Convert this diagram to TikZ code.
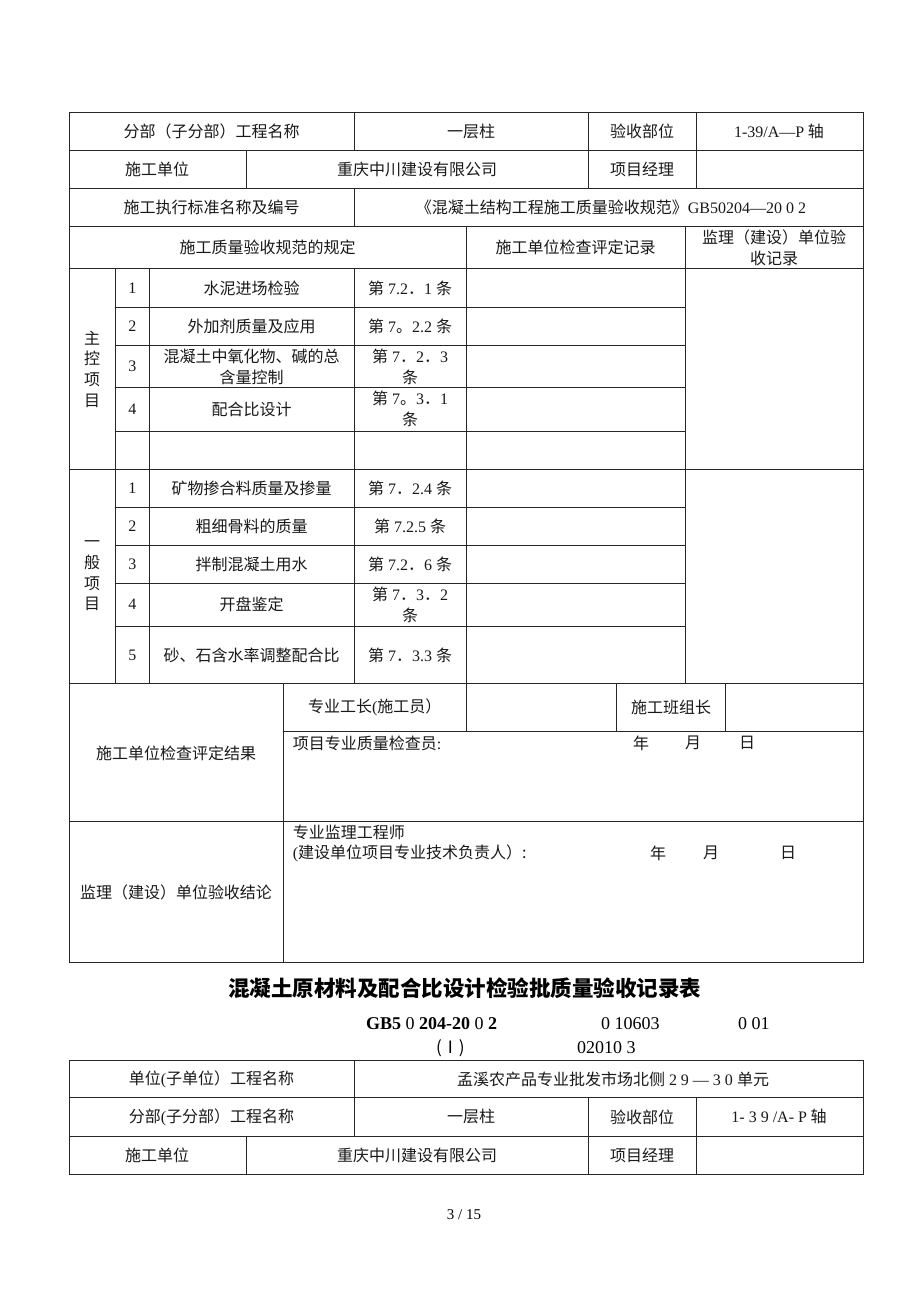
\documentclass[tikz,border=0pt]{standalone}
\usepackage{fontspec}
\setmainfont{Noto Sans CJK SC}
\newfontfamily\lat{Liberation Serif}
\newcommand\lt[1]{{\lat #1}}
\begin{document}
\begin{tikzpicture}[x=1pt,y=-1pt,
  grid/.style={draw=black!85,line width=1pt},
  txt/.style={font=\fontsize{16}{21}\selectfont,inner sep=0pt,align=center,text=black!90},
  lft/.style={txt,anchor=west,align=left},
  vlab/.style={font=\fontsize{16}{20.7}\selectfont,inner sep=0pt,align=center,text=black!90},
  ttl/.style={font=\fontsize{21.5}{24}\selectfont\bfseries,inner sep=0pt}]
\useasboundingbox[fill=white] (0,0) rectangle (920,1302);
% ---------- table 1 grid ----------
\draw[grid] (69,112) rectangle (863,962.3);
\foreach \yy in {150,188,226,268.7,469,683.7,821.7}{\draw[grid] (69,\yy) -- (863,\yy);}
\draw[grid] (354,112) -- (354,150);
\draw[grid] (354,188) -- (354,226);
\draw[grid] (246,150) -- (246,188);
\draw[grid] (588,112) -- (588,188);
\draw[grid] (696,112) -- (696,188);
\draw[grid] (466,226) -- (466,683.7);
\draw[grid] (685,226) -- (685,683.7);
\foreach \xx in {115.7,149,354}{\draw[grid] (\xx,268.7) -- (\xx,683.7);}
\foreach \yy in {307,345.3,387.7,431,507.3,545.3,583.3,626}{\draw[grid] (115.7,\yy) -- (685,\yy);}
\draw[grid] (283,683.7) -- (283,962.3);
\draw[grid] (283,731) -- (863,731);
\draw[grid] (466,683.7) -- (466,731);
\draw[grid] (616.7,683.7) -- (616.7,731);
\draw[grid] (725.7,683.7) -- (725.7,731);
% ---------- table 1 text ----------
\node[txt] (a1) at (211.5,131) {分部（子分部）工程名称};
\node[txt] (a2) at (471,131) {一层柱};
\node[txt] (a3) at (642,131) {验收部位};
\node[txt] (a4) at (779,131) {\lt{1-39/A—P} 轴};
\node[txt] (b1) at (157,169) {施工单位};
\node[txt] (b2) at (417,169) {重庆中川建设有限公司};
\node[txt] (b3) at (642,169) {项目经理};
\node[txt] (c1) at (211.5,207) {施工执行标准名称及编号};
\node[txt] (c2) at (611,207) {《混凝土结构工程施工质量验收规范》\lt{GB50204—20 0 2}};
\node[txt] (d1) at (267.5,247.5) {施工质量验收规范的规定};
\node[txt] (d2) at (575.5,247.5) {施工单位检查评定记录};
\node[txt] (d3) at (774,247.5) {监理（建设）单位验\\收记录};
\node[vlab] (zk) at (92,369) {主\\控\\项\\目};
\node[vlab] (yb) at (92,576) {一\\般\\项\\目};
% main items
\node[txt] (m1n) at (132.4,287.9) {\lt{1}};
\node[txt] (m1t) at (251.5,287.9) {水泥进场检验};
\node[txt] (m1c) at (410,287.9) {第\lt{ 7.2}．\lt{1 }条};
\node[txt] (m2n) at (132.4,326.2) {\lt{2}};
\node[txt] (m2t) at (251.5,326.2) {外加剂质量及应用};
\node[txt] (m2c) at (410,326.2) {第\lt{ 7}。\lt{2.2 }条};
\node[txt] (m3n) at (132.4,366.5) {\lt{3}};
\node[txt] (m3t) at (251.5,366.5) {混凝土中氧化物、碱的总\\含量控制};
\node[txt] (m3c) at (410,366.5) {第\lt{ 7}．\lt{2}．\lt{3}\\条};
\node[txt] (m4n) at (132.4,409.3) {\lt{4}};
\node[txt] (m4t) at (251.5,409.3) {配合比设计};
\node[txt] (m4c) at (410,409.3) {第\lt{ 7}。\lt{3}．\lt{1}\\条};
% general items
\node[txt] (g1n) at (132.4,488.2) {\lt{1}};
\node[txt] (g1t) at (251.5,488.2) {矿物掺合料质量及掺量};
\node[txt] (g1c) at (410,488.2) {第\lt{ 7}．\lt{2.4 }条};
\node[txt] (g2n) at (132.4,526.3) {\lt{2}};
\node[txt] (g2t) at (251.5,526.3) {粗细骨料的质量};
\node[txt] (g2c) at (410,526.3) {第\lt{ 7.2.5 }条};
\node[txt] (g3n) at (132.4,564.3) {\lt{3}};
\node[txt] (g3t) at (251.5,564.3) {拌制混凝土用水};
\node[txt] (g3c) at (410,564.3) {第\lt{ 7.2}．\lt{6 }条};
\node[txt] (g4n) at (132.4,604.7) {\lt{4}};
\node[txt] (g4t) at (251.5,604.7) {开盘鉴定};
\node[txt] (g4c) at (410,604.7) {第\lt{ 7}．\lt{3}．\lt{2}\\条};
\node[txt] (g5n) at (132.4,655) {\lt{5}};
\node[txt] (g5t) at (251.5,655) {砂、石含水率调整配合比};
\node[txt] (g5c) at (410,655) {第\lt{ 7}．\lt{3.3 }条};
% bottom
\node[txt] (e1) at (374.7,707.3) {专业工长\lt{(}施工员）};
\node[txt] (e2) at (671,707.3) {施工班组长};
\node[txt] (e3) at (176,753) {施工单位检查评定结果};
\node[lft] (e4) at (292.7,743) {项目专业质量检查员\lt{:}};
\node[txt] (e5) at (641,743) {年};
\node[txt] (e6) at (693,743) {月};
\node[txt] (e7) at (747,743) {日};
\node[txt] (f1) at (176,892.5) {监理（建设）单位验收结论};
\node[lft] (f2) at (292.7,832) {专业监理工程师};
\node[lft] (f3) at (292.7,853) {\lt{(}建设单位项目专业技术负责人）:};
\node[txt] (f4) at (658,853) {年};
\node[txt] (f5) at (711,853) {月};
\node[txt] (f6) at (788,853) {日};
% ---------- title ----------
\node[ttl] (title) at (464.5,988) {混凝土原材料及配合比设计检验批质量验收记录表};
\node[anchor=west,inner sep=0pt,font=\lat\fontsize{18}{20}\selectfont] (gb) at (366,1024) {\textbf{GB5} 0 \textbf{204-20} 0 \textbf{2}};
\node[anchor=west,inner sep=0pt,font=\lat\fontsize{18}{20}\selectfont] (n1) at (601,1024) {0 10603};
\node[anchor=west,inner sep=0pt,font=\lat\fontsize{18}{20}\selectfont] (n2) at (738,1024) {0 01};
\node[anchor=west,inner sep=0pt,font=\fontsize{17}{20}\selectfont] (n3) at (436,1048) {(Ⅰ)};
\node[anchor=west,inner sep=0pt,font=\lat\fontsize{18}{20}\selectfont] (n4) at (577,1048) {02010 3};
% ---------- table 2 ----------
\draw[grid] (69,1060) rectangle (863,1174);
\draw[grid] (69,1097.7) -- (863,1097.7);
\draw[grid] (69,1136) -- (863,1136);
\draw[grid] (354,1060) -- (354,1136);
\draw[grid] (588,1097.7) -- (588,1174);
\draw[grid] (696.7,1097.7) -- (696.7,1174);
\draw[grid] (246,1136) -- (246,1174);
\node[txt] (h1) at (211.5,1078.9) {单位\lt{(}子单位）工程名称};
\node[txt] (h2) at (613,1078.9) {孟溪农产品专业批发市场北侧\lt{ 2 9 — 3 0 }单元};
\node[txt] (i1) at (211.5,1116.9) {分部\lt{(}子分部）工程名称};
\node[txt] (i2) at (471,1116.9) {一层柱};
\node[txt] (i3) at (642,1116.9) {验收部位};
\node[txt] (i4) at (779,1116.9) {\lt{1- 3  9 /A- P} 轴};
\node[txt] (j1) at (157,1155) {施工单位};
\node[txt] (j2) at (417,1155) {重庆中川建设有限公司};
\node[txt] (j3) at (642,1155) {项目经理};
\node[font=\lat\fontsize{15}{18}\selectfont,inner sep=0pt] (pg) at (464,1215) {3 / 15};
\end{tikzpicture}
\end{document}
